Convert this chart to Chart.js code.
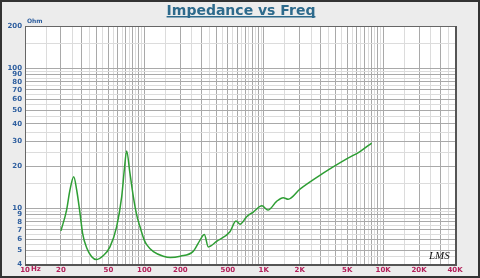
<!DOCTYPE html>
<html>
<head>
<meta charset="utf-8">
<script src="https://cdn.jsdelivr.net/npm/chart.js@4"></script>
<style>
  html, body { margin: 0; padding: 0; background: #ececec; }
  #wrap { width: 480px; height: 278px; }
</style>
</head>
<body>
<div id="wrap"><canvas id="impChart" width="480" height="278"></canvas></div>
<script>
const freqHz = [20, 22.3, 23.8, 25.6, 27.1, 28.9, 30.4, 32.9, 36.2, 39.4, 45.3, 51.5, 58.6, 64.5, 68, 71, 75.7, 80.8, 86.1, 91.8, 100, 104.5, 119, 144, 165, 200, 255, 292, 318, 343, 403, 521, 585, 632, 719, 817, 966, 1084, 1282, 1456, 1603, 2010, 3147, 4946, 6400, 8020];
const impedanceOhm = [6.9, 9.7, 13.5, 16.8, 13.5, 9.2, 6.6, 5.2, 4.5, 4.3, 4.6, 5.3, 7.4, 12, 19, 25.6, 17.8, 12.1, 9.0, 7.4, 5.9, 5.5, 4.9, 4.55, 4.45, 4.55, 4.9, 5.9, 6.5, 5.3, 5.8, 6.8, 8.1, 7.7, 8.7, 9.4, 10.4, 9.7, 11.2, 11.9, 11.6, 13.7, 17.8, 22.5, 25.4, 29.2];

// axis labels
const xLabelValues = [10, 20, 50, 100, 200, 500, 1000, 2000, 5000, 10000, 20000, 40000];
const xLabelTexts = ['10', '20', '50', '100', '200', '500', '1K', '2K', '5K', '10K', '20K', '40K'];
const yLabelValues = [4, 5, 6, 7, 8, 9, 10, 20, 30, 40, 50, 60, 70, 80, 90, 100, 200];

// grid lines at k*10^n and (k+0.5)*10^n
function logGrid(min, max) {
    const out = [];
    for (let e = Math.floor(Math.log10(min)); e <= Math.ceil(Math.log10(max)); e++) {
        for (let k = 1; k < 10; k += 0.5) {
            const v = +(k * Math.pow(10, e)).toPrecision(6);
            if (v >= min - 1e-9 && v <= max + 1e-9) out.push(v);
        }
    }
    if (out[out.length - 1] !== max) out.push(max);
    return out;
}
function isWhole(v) {
    const m = v / Math.pow(10, Math.floor(Math.log10(v) + 1e-9));
    return Math.abs(m - Math.round(m)) < 1e-6;
}
function gridColor(ctx) {
    const v = ctx.tick ? ctx.tick.value : 0;
    return isWhole(v) ? '#a9a9a9' : '#dcdcdc';
}

const framePlugin = {
    id: 'frame',
    beforeDraw(chart) {
        const c = chart.ctx, a = chart.chartArea;
        c.save();
        c.fillStyle = '#ececec';
        c.fillRect(0, 0, chart.width, chart.height);
        c.fillStyle = '#ffffff';
        c.fillRect(a.left, a.top, a.right - a.left, a.bottom - a.top);
        c.restore();
    },
    afterDraw(chart) {
        const c = chart.ctx, a = chart.chartArea;
        c.save();
        // plot frame
        c.strokeStyle = '#666666';
        c.lineWidth = 1;
        c.strokeRect(a.left + 0.5, a.top + 0.5, a.right - a.left, a.bottom - a.top);
        c.strokeStyle = '#555555';
        c.lineWidth = 2;
        c.beginPath();
        c.moveTo(a.right + 1, a.top);
        c.lineTo(a.right + 1, a.bottom + 1);
        c.lineTo(a.left, a.bottom + 1);
        c.stroke();
        // outer frame
        c.strokeStyle = '#333333';
        c.lineWidth = 2;
        c.strokeRect(1, 1, chart.width - 2, chart.height - 2);
        // title
        c.fillStyle = '#2d6a8c';
        c.font = 'bold 14px "DejaVu Sans"';
        c.textAlign = 'center';
        c.textBaseline = 'alphabetic';
        const title = 'Impedance vs Freq';
        const w = c.measureText(title).width;
        c.fillText(title, 241, 15);
        c.fillRect(241 - w / 2, 16, w, 1.5);
        // unit labels
        c.fillStyle = '#2f5f9f';
        c.font = 'bold 6px "DejaVu Sans"';
        c.textAlign = 'left';
        c.textBaseline = 'middle';
        c.fillText('Ohm', 27, 21);
        c.fillStyle = '#b3205a';
        c.font = 'bold 7px "DejaVu Sans"';
        c.textBaseline = 'top';
        c.fillText('Hz', 31, a.bottom + 2);
        // logo
        c.fillStyle = '#111111';
        c.font = 'italic 11px "Liberation Serif"';
        c.textAlign = 'left';
        c.textBaseline = 'alphabetic';
        c.fillText('LMS', 429, 259);
        c.restore();
    }
};

const ctx = document.getElementById('impChart').getContext('2d');
const impChart = new Chart(ctx, {
    type: 'line',
    data: {
        datasets: [{
            data: freqHz.map((f, i) => ({ x: f, y: impedanceOhm[i] })),
            borderColor: '#2e9e34',
            borderWidth: 1.5,
            pointRadius: 0,
            fill: false,
            tension: 0,
            cubicInterpolationMode: 'monotone'
        }]
    },
    options: {
        responsive: false,
        animation: false,
        layout: { padding: { left: 0, right: 25, top: 26, bottom: 0 } },
        plugins: {
            legend: { display: false },
            tooltip: { enabled: false }
        },
        scales: {
            x: {
                type: 'logarithmic',
                min: 10,
                max: 40000,
                afterBuildTicks: scale => {
                    scale.ticks = logGrid(10, 40000).map(v => ({ value: v }));
                },
                afterFit: scale => { scale.height = 14; },
                grid: { color: gridColor, drawTicks: false, lineWidth: 1 },
                border: { display: false },
                ticks: {
                    autoSkip: false,
                    maxRotation: 0,
                    padding: 2,
                    color: '#b3205a',
                    font: { family: 'DejaVu Sans', size: 7, weight: 'bold' },
                    callback: value => {
                        const i = xLabelValues.findIndex(v => Math.abs(v - value) < 1e-6);
                        return i >= 0 ? xLabelTexts[i] : '';
                    }
                }
            },
            y: {
                type: 'logarithmic',
                min: 4,
                max: 200,
                afterBuildTicks: scale => {
                    scale.ticks = logGrid(4, 200).map(v => ({ value: v }));
                },
                afterFit: scale => { scale.width = 25; },
                grid: { color: gridColor, drawTicks: false, lineWidth: 1 },
                border: { display: false },
                ticks: {
                    autoSkip: false,
                    padding: 3,
                    color: '#2f5f9f',
                    font: { family: 'DejaVu Sans', size: 7, weight: 'bold' },
                    callback: value => yLabelValues.some(v => Math.abs(v - value) < 1e-6) ? String(value) : ''
                }
            }
        }
    },
    plugins: [framePlugin]
});
</script>
</body>
</html>
